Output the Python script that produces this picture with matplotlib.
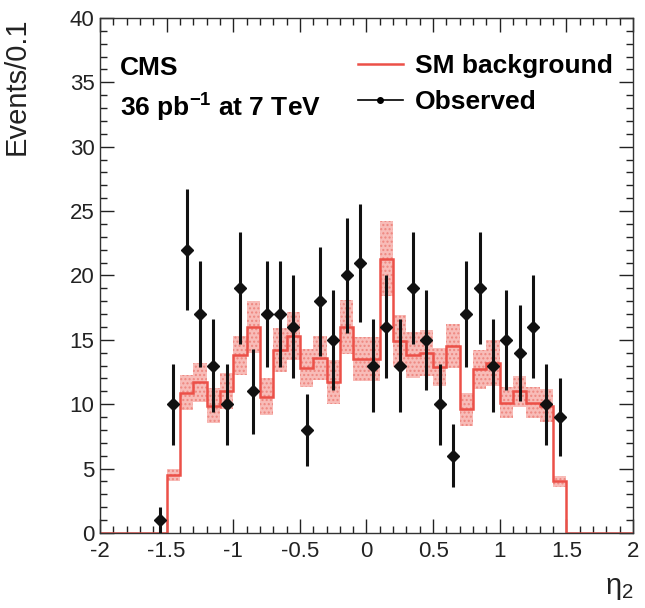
import numpy as np
import matplotlib
matplotlib.use("Agg")
import matplotlib.pyplot as plt
from matplotlib.lines import Line2D
from matplotlib.ticker import MultipleLocator

plt.rcParams['font.family'] = ['Liberation Sans', 'DejaVu Sans']
plt.rcParams['mathtext.fontset'] = 'custom'
plt.rcParams['mathtext.rm'] = 'Liberation Sans'
plt.rcParams['mathtext.it'] = 'Liberation Sans'
plt.rcParams['mathtext.bf'] = 'Liberation Sans:bold'
plt.rcParams['axes.unicode_minus'] = False

# eta_2 binning, 0.1 wide from -2 to 2
bin_edges = np.round(np.arange(-2.0, 2.0001, 0.1), 2)

# SM background prediction per bin
bkg = [0, 0, 0, 0, 0,
       4.5, 10.9, 11.7, 9.9, 11.0, 13.8, 16.0, 10.6, 14.2, 15.3,
       12.8, 13.6, 11.7, 16.0, 13.5, 13.5, 21.3, 14.9, 13.8, 14.0,
       12.9, 14.5, 9.6, 12.7, 13.2, 10.1, 11.0, 10.1, 9.9, 4.0,
       0, 0, 0, 0, 0]
# half width of the uncertainty band
bkg_err = [0, 0, 0, 0, 0,
           0.5, 1.35, 1.5, 1.35, 1.4, 1.5, 2.0, 1.4, 1.7, 1.9,
           1.5, 1.7, 1.7, 2.1, 1.7, 1.7, 2.9, 2.0, 1.8, 1.8,
           1.5, 1.7, 1.3, 1.5, 1.8, 1.2, 1.2, 1.2, 1.3, 0.4,
           0, 0, 0, 0, 0]

# observed counts, bins from -1.6 to 1.5
obs_first_edge = -1.6
obs = [1, 10, 22, 17, 13, 10, 19, 11, 17, 17, 16, 8, 18, 15, 20, 21,
       13, 16, 13, 19, 15, 10, 6, 17, 19, 13, 15, 14, 16, 10, 9]

red = '#ec5048'

fig = plt.figure(figsize=(6.45, 6.08), dpi=100)
ax = fig.add_axes([0.155, 0.1234, 0.8264, 0.847])

bkg = np.array(bkg)
bkg_err = np.array(bkg_err)
ax.stairs(bkg + bkg_err, bin_edges, baseline=bkg - bkg_err, fill=True,
          facecolor='#f8bcb8', edgecolor='none', zorder=1)
ax.stairs(bkg + bkg_err, bin_edges, baseline=bkg - bkg_err, fill=True,
          facecolor='none', edgecolor='#ee8780', hatch='....', linewidth=0, zorder=1)
ax.stairs(bkg, bin_edges, color=red, linewidth=1.8, zorder=2)

obs = np.array(obs)
centers = obs_first_edge + 0.05 + 0.1 * np.arange(len(obs))
ax.errorbar(centers, obs, yerr=np.sqrt(obs), fmt='D', color='#111111',
            ms=6, elinewidth=2.2, capsize=0, zorder=3)

ax.set_xlim(-2, 2)
ax.set_ylim(0, 40)
ax.xaxis.set_major_locator(MultipleLocator(0.5))
ax.xaxis.set_minor_locator(MultipleLocator(0.1))
ax.yaxis.set_major_locator(MultipleLocator(5))
ax.yaxis.set_minor_locator(MultipleLocator(1))
ax.set_xticks(np.arange(-2, 2.01, 0.5))
ax.set_xticklabels(['-2', '-1.5', '-1', '-0.5', '0', '0.5', '1', '1.5', '2'])
ax.tick_params(which='both', direction='in', top=True, right=True,
               labelsize=16, colors='#222222')
ax.tick_params(which='major', length=10, width=1)
ax.tick_params(which='minor', length=5, width=1)
ax.tick_params(axis='x', pad=6)
ax.tick_params(axis='y', pad=4)
for s in ax.spines.values():
    s.set_linewidth(1.0)
    s.set_color('#333333')

ax.set_ylabel('Events/0.1', fontsize=21, loc='top', color='#222222')
ax.yaxis.set_label_coords(-0.13, 1.0)
ax.set_xlabel(r'$\eta_{2}$', fontsize=21, loc='right', color='#222222')
ax.xaxis.set_label_coords(1.0, -0.08)

ax.text(0.038, 0.903, 'CMS', transform=ax.transAxes, fontsize=19,
        fontweight='bold', va='center', ha='left')
ax.text(0.038, 0.826, r'36 pb$^{\mathbf{-1}}$ at 7 TeV', transform=ax.transAxes,
        fontsize=19, fontweight='bold', va='center', ha='left')

handles = [Line2D([], [], color=red, lw=1.8),
           Line2D([], [], color='black', lw=1.2, marker='o', ms=4)]
ax.legend(handles, ['SM background', 'Observed'], loc='upper left',
          bbox_to_anchor=(0.484, 0.93), frameon=False, borderpad=0,
          borderaxespad=0, handlelength=1.7, handletextpad=0.45,
          labelspacing=0.45, prop={'weight': 'bold', 'size': 19})

fig.savefig('out.png', dpi=100)
